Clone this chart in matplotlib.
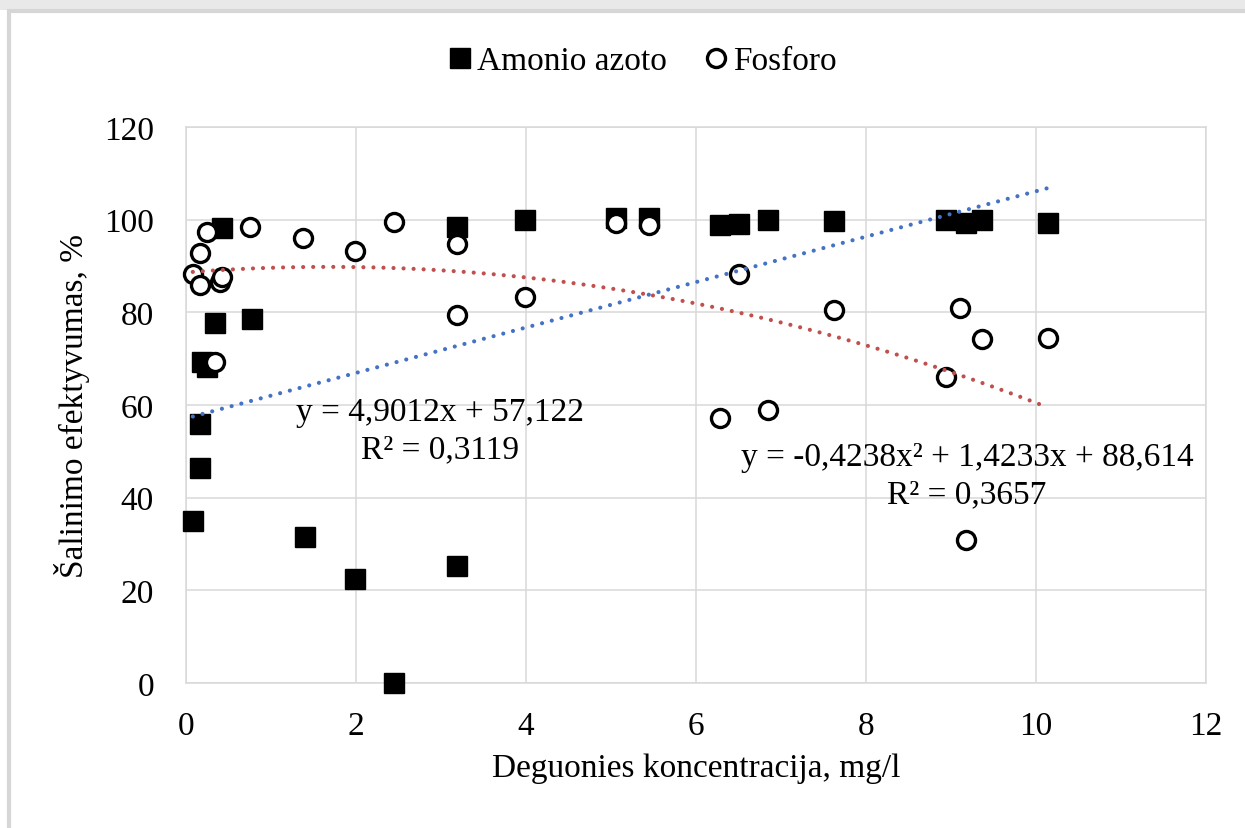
import numpy as np
import matplotlib
matplotlib.use("Agg")
import matplotlib.pyplot as plt
from matplotlib.patches import Rectangle

plt.rcParams['font.family'] = ['Liberation Serif', 'DejaVu Serif']

# Amonio azoto (filled squares)
nh4_x = [0.08, 0.16, 0.16, 0.19, 0.25, 0.34, 0.42, 0.78, 1.40, 1.99, 2.45, 3.19, 3.19,
         3.99, 5.06, 5.45, 6.28, 6.51, 6.85, 7.62, 8.94, 9.18, 9.36, 10.14]
nh4_y = [35.0, 46.4, 55.9, 69.3, 68.2, 77.8, 98.2, 78.5, 31.5, 22.4, 0.0, 98.4, 25.3,
         99.9, 100.4, 100.4, 98.9, 99.1, 99.9, 99.7, 99.9, 99.3, 99.9, 99.3]

# Fosforo (open circles)
p_x = [0.08, 0.16, 0.16, 0.25, 0.34, 0.40, 0.42, 0.75, 1.38, 1.99, 2.45, 3.19, 3.19,
       3.99, 5.06, 5.45, 6.28, 6.51, 6.85, 7.62, 8.94, 9.11, 9.18, 9.36, 10.14]
p_y = [88.3, 92.9, 85.9, 97.3, 69.3, 86.5, 87.6, 98.4, 96.0, 93.2, 99.5, 94.7, 79.4,
       83.3, 99.3, 98.9, 57.2, 88.3, 58.9, 80.5, 66.0, 80.9, 30.9, 74.2, 74.5]

# trendline coefficients shown on the chart
lin_coef = [4.9012, 57.122]
quad_coef = [-0.4238, 1.4233, 88.614]

fig = plt.figure(figsize=(12.45, 8.29), dpi=100)
fig.patch.set_facecolor('white')
# page background strip and chart border
fig.add_artist(Rectangle((0, 1 - 11 / 829), 1, 11 / 829, transform=fig.transFigure,
                         facecolor='#e9e9e9', edgecolor='none', zorder=-2))
fig.add_artist(Rectangle((9 / 1245, -0.01), 1.02, 1 - 12 / 829 + 0.01, transform=fig.transFigure,
                         facecolor='white', edgecolor='#d6d6d6', linewidth=3, zorder=-1))

ax = fig.add_axes([186 / 1245, 1 - 684 / 829, 1020 / 1245, 556 / 829])
grid_c = '#d9d9d9'
ax.set_xlim(0, 12)
ax.set_ylim(0, 120)
ax.set_xticks(np.arange(0, 13, 2))
ax.set_yticks(np.arange(0, 121, 20))
ax.grid(True, color=grid_c, linewidth=1.1)
ax.set_axisbelow(True)
for s in ax.spines.values():
    s.set_color(grid_c)
    s.set_linewidth(1.1)
ax.tick_params(axis='y', length=0, labelsize=24, pad=23)
ax.tick_params(axis='x', length=0, labelsize=24, pad=20)

ax.plot(nh4_x, nh4_y, 's', color='black', markersize=14, label='Amonio azoto',
        clip_on=False, zorder=3)
ax.plot(p_x, p_y, 'o', markerfacecolor='white', markeredgecolor='black', markersize=13,
        markeredgewidth=2.4, label='Fosforo', clip_on=False, zorder=4)

xl = np.linspace(min(nh4_x), max(nh4_x), 100)
ax.plot(xl, np.polyval(lin_coef, xl), color='#4472C4', linewidth=3,
        linestyle=(0, (0.01, 2.4)), dash_capstyle='round', zorder=5)
xq = np.linspace(min(p_x), max(p_x) - 0.04, 100)
ax.plot(xq, np.polyval(quad_coef, xq), color='#C0504D', linewidth=3,
        linestyle=(0, (0.01, 2.4)), dash_capstyle='round', zorder=5)

ax.text(2.99, 58.5, 'y = 4,9012x + 57,122', ha='center', va='center', fontsize=24)
ax.text(2.99, 50.5, 'R² = 0,3119', ha='center', va='center', fontsize=24)
ax.text(9.19, 48.8, 'y = -0,4238x² + 1,4233x + 88,614', ha='center', va='center', fontsize=24,
        clip_on=False)
ax.text(9.19, 40.8, 'R² = 0,3657', ha='center', va='center', fontsize=24)

ax.set_xlabel('Deguonies koncentracija, mg/l', fontsize=24, labelpad=8)
ax.set_ylabel('Šalinimo efektyvumas, %', fontsize=24, labelpad=10)

fig.legend(loc='center', bbox_to_anchor=(0.514, 0.925), ncol=2, frameon=False, fontsize=24,
           handletextpad=0.0, columnspacing=1.0, handlelength=1.0)

fig.savefig('out.png', dpi=100, facecolor=fig.get_facecolor())
